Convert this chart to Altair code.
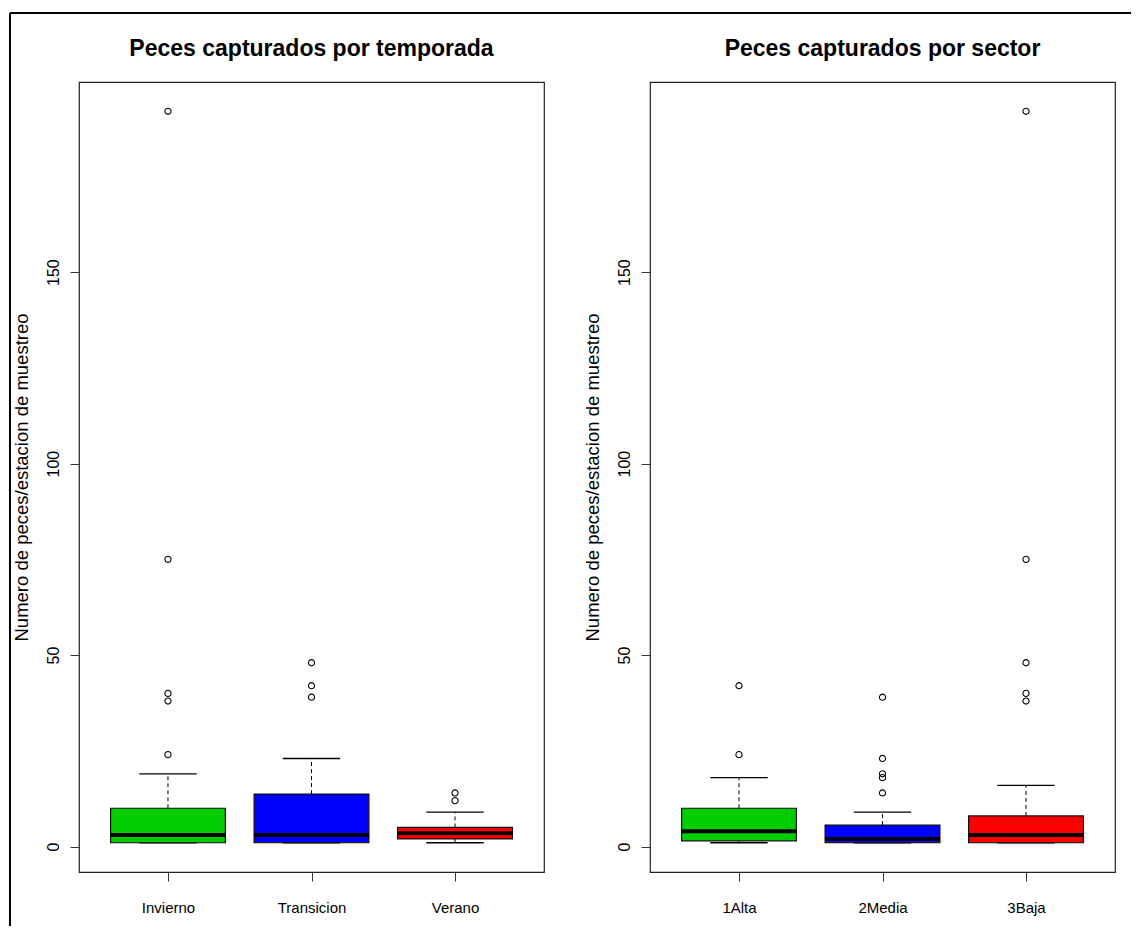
import altair as alt
import pandas as pd

# ---- data ----
seasons = ["Invierno", "Transicion", "Verano"]
season_lo = [1, 1, 1]
season_q1 = [1, 1, 2]
season_med = [3, 3, 3.5]
season_q3 = [10, 13.7, 5]
season_hi = [19, 23, 9]
season_out = [[24, 38, 40, 75, 192], [39, 42, 48], [12, 14]]

sectors = ["1Alta", "2Media", "3Baja"]
sector_lo = [1, 1, 1]
sector_q1 = [1.5, 1, 1]
sector_med = [4, 2, 3]
sector_q3 = [10, 5.6, 8]
sector_hi = [18, 9, 16]
sector_out = [[24, 42], [14, 18, 19, 23, 39], [38, 40, 48, 75, 192]]

box_colors = ["#00CD00", "#0000FF", "#FF0000"]
y_ticks = [0, 50, 100, 150]
y_title = "Numero de peces/estacion de muestreo"

SANS = "Liberation Sans, Arial, Helvetica, sans-serif"
W, H = 465, 790

all_vals = season_lo + season_hi + sum(season_out, []) + sector_lo + sector_hi + sum(sector_out, [])
vmin, vmax = min(all_vals), max(all_vals)
rng = vmax - vmin
y_domain = [vmin - 0.04 * rng, vmax + 0.04 * rng]


def panel(cats, lo, q1, med, q3, hi, outs, title, title_offset, with_frame):
    n = len(cats)
    box_df = pd.DataFrame({
        "cat": cats, "pos": list(range(1, n + 1)),
        "lo": lo, "q1": q1, "med": med, "q3": q3, "hi": hi,
    })
    out_rows = [{"cat": c, "pos": i + 1, "value": v}
                for i, (c, vs) in enumerate(zip(cats, outs)) for v in vs]
    out_df = pd.DataFrame(out_rows)

    label_expr = "[" + ",".join("'%s'" % c for c in cats) + "][datum.value - 1]"
    x_axis = alt.Axis(values=list(range(1, n + 1)), labelExpr=label_expr, title=None,
                      grid=False, domain=False, tickSize=9, tickColor="#333",
                      labelFont=SANS, labelFontSize=15, labelColor="#000",
                      labelPadding=31, labelBaseline="alphabetic", labelAlign="center",
                      labelFlush=False)
    x_scale = alt.Scale(domain=[0.5 - 0.04 * n, n + 0.5 + 0.04 * n], nice=False, zero=False)
    y_axis = alt.Axis(values=y_ticks, title=y_title, grid=False, domain=False,
                      tickSize=9, tickColor="#333",
                      labelFont=SANS, labelFontSize=16, labelColor="#000",
                      labelAngle=270, labelAlign="center", labelBaseline="alphabetic",
                      labelPadding=12, labelFlush=False,
                      titleFont=SANS, titleFontSize=18.5, titleFontWeight="normal",
                      titleColor="#000", titleAngle=270, titleAlign="center",
                      titleBaseline="alphabetic", titleX=-52, titleY=H / 2)
    y_scale = alt.Scale(domain=y_domain, nice=False, zero=False)

    def X(f):
        return alt.X(f, scale=x_scale, axis=x_axis)

    def Y(f):
        return alt.Y(f, scale=y_scale, axis=y_axis)

    base = alt.Chart(box_df).transform_calculate(
        x1="datum.pos - 0.4", x2="datum.pos + 0.4",
        c1="datum.pos - 0.2", c2="datum.pos + 0.2")

    whisk_up = base.mark_rule(color="#000", strokeWidth=1, strokeDash=[4, 3]).encode(
        x=X("pos:Q"), y=Y("q3:Q"), y2="hi:Q")
    whisk_lo = base.mark_rule(color="#000", strokeWidth=1, strokeDash=[4, 3]).encode(
        x=X("pos:Q"), y=Y("lo:Q"), y2="q1:Q")
    cap_up = base.mark_rule(color="#000", strokeWidth=1.3).encode(
        x=X("c1:Q"), x2="c2:Q", y=Y("hi:Q"))
    cap_lo = base.mark_rule(color="#000", strokeWidth=1.3).encode(
        x=X("c1:Q"), x2="c2:Q", y=Y("lo:Q"))
    boxes = base.mark_rect(stroke="#111", strokeWidth=1.2, opacity=1).encode(
        x=X("x1:Q"), x2="x2:Q", y=Y("q1:Q"), y2="q3:Q",
        color=alt.Color("cat:N", scale=alt.Scale(domain=cats, range=box_colors), legend=None))
    medians = base.mark_rule(color="#000", strokeWidth=4).encode(
        x=X("x1:Q"), x2="x2:Q", y=Y("med:Q"))
    points = alt.Chart(out_df).mark_point(shape="circle", filled=False, size=38,
                                          color="#000", strokeWidth=1.1, opacity=1).encode(
        x=X("pos:Q"), y=Y("value:Q"))

    layers = [whisk_up, whisk_lo, cap_up, cap_lo, boxes, medians, points]
    if with_frame:
        fd = pd.DataFrame({"k": [0]})
        top_line = alt.Chart(fd).mark_rule(color="#000", strokeWidth=2).encode(
            x=alt.value(-69), x2=alt.value(1052), y=alt.value(-69))
        left_line = alt.Chart(fd).mark_rule(color="#000", strokeWidth=2).encode(
            x=alt.value(-69), y=alt.value(-69), y2=alt.value(844))
        layers += [top_line, left_line]

    return alt.layer(*layers).properties(
        width=W, height=H,
        title=alt.TitleParams(text=title, font=SANS, fontSize=23, fontWeight="bold",
                              color="#000", anchor="middle", frame="group",
                              baseline="alphabetic", offset=title_offset))


left = panel(seasons, season_lo, season_q1, season_med, season_q3, season_hi, season_out,
             "Peces capturados por temporada", -67, True)
right = panel(sectors, sector_lo, sector_q1, sector_med, sector_q3, sector_hi, sector_out,
              "Peces capturados por sector", 3, False)

chart = alt.hconcat(left, right, spacing=106, bounds="flush").properties(
    padding={"left": 0, "top": 3, "right": 0, "bottom": 0}
).configure_view(stroke="#222", strokeWidth=1.2)

chart.save("out.html", embed_options={"renderer": "svg", "actions": False})
